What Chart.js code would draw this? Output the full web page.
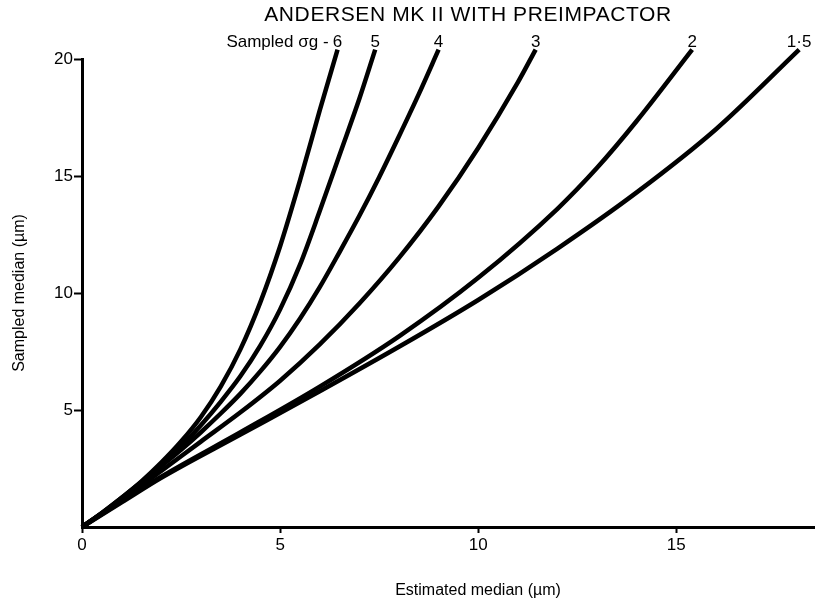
<!DOCTYPE html>
<html>
<head>
<meta charset="utf-8">
<script src="https://cdn.jsdelivr.net/npm/chart.js@4/dist/chart.umd.min.js"></script>
<style>
  html, body { margin: 0; padding: 0; background: #fff; }
  #wrap { width: 815px; height: 604px; }
</style>
</head>
<body>
<div id="wrap"><canvas id="chart" width="815" height="604"></canvas></div>
<script>
const chartTitle = "ANDERSEN MK II WITH PREIMPACTOR";
const xTitle = "Estimated median (\u00b5m)";
const yTitle = "Sampled median (\u00b5m)";
const sigmaPrefix = "Sampled \u03c3g -";
const sigmaLabels = ["6", "5", "4", "3", "2", "1\u00b75"];
const xTicks = [0, 5, 10, 15];
const yTicks = [5, 10, 15, 20];

// one x/y list per sampled sigma-g curve
const x6 = [0, 0.5, 1, 1.5, 2, 2.5, 3, 3.5, 4, 4.5, 5, 5.5, 6, 6.45];
const y6 = [0, 0.6, 1.25, 1.95, 2.75, 3.65, 4.7, 6.0, 7.6, 9.6, 12.0, 14.8, 17.8, 20.4];
const x5 = [0, 0.5, 1, 1.5, 2, 2.5, 3, 3.5, 4, 4.5, 5, 5.5, 6, 6.5, 7, 7.4];
const y5 = [0, 0.6, 1.25, 1.92, 2.65, 3.45, 4.35, 5.35, 6.45, 7.75, 9.3, 11.2, 13.5, 15.9, 18.3, 20.4];
const x4 = [0, 1, 2, 2.5, 3, 3.5, 4, 4.5, 5, 5.5, 6, 6.5, 7, 7.5, 8, 8.5, 9.0];
const y4 = [0, 1.2, 2.6, 3.3, 4.05, 4.85, 5.7, 6.65, 7.7, 8.9, 10.25, 11.75, 13.3, 14.95, 16.7, 18.5, 20.4];
const x3 = [0, 1, 2, 3, 4, 5, 6, 7, 8, 9, 10, 11, 11.45];
const y3 = [0, 1.15, 2.4, 3.65, 4.9, 6.25, 7.8, 9.55, 11.5, 13.7, 16.2, 19.0, 20.4];
const x2 = [0, 1, 2, 4, 6, 8, 10, 12, 13, 14, 15.4];
const y2 = [0, 1.1, 2.15, 4.05, 6.0, 8.15, 10.65, 13.6, 15.35, 17.35, 20.4];
const x15 = [0, 1, 2, 4, 6, 8, 10, 12, 14, 16, 18.1];
const y15 = [0, 1.05, 2.1, 3.95, 5.8, 7.7, 9.7, 11.9, 14.3, 17.0, 20.4];

const curves = [[x6, y6], [x5, y5], [x4, y4], [x3, y3], [x2, y2], [x15, y15]];
const FONT = "'Liberation Sans', Arial, sans-serif";

const datasets = curves.map(([xs, ys], i) => ({
  label: sigmaLabels[i],
  data: xs.map((x, j) => ({ x, y: ys[j] })),
  borderColor: "#000",
  borderWidth: 4.5,
  pointRadius: 0,
  cubicInterpolationMode: "monotone",
  fill: false,
  clip: false,
}));

const textPlugin = {
  id: "texts",
  afterDraw(chart) {
    const { ctx, chartArea, scales } = chart;
    ctx.save();
    ctx.fillStyle = "#000";
    ctx.textBaseline = "middle";

    ctx.font = "21px " + FONT;
    ctx.textAlign = "center";
    ctx.letterSpacing = "0.6px";
    ctx.fillText(chartTitle, 468, 15);
    ctx.letterSpacing = "0px";

    ctx.font = "17px " + FONT;
    const labelY = chartArea.top - 17;
    curves.forEach(([xs], i) => {
      const px = scales.x.getPixelForValue(xs[xs.length - 1]);
      ctx.fillText(sigmaLabels[i], px, labelY);
    });
    ctx.textAlign = "right";
    const firstX = scales.x.getPixelForValue(x6[x6.length - 1]);
    ctx.fillText(sigmaPrefix, firstX - 9, labelY);

    ctx.font = "16px " + FONT;
    ctx.textAlign = "center";
    ctx.fillText(xTitle, 478, 591);

    ctx.translate(20, (chartArea.top + chartArea.bottom) / 2);
    ctx.rotate(-Math.PI / 2);
    ctx.fillText(yTitle, 0, 0);
    ctx.restore();
  },
};

new Chart(document.getElementById("chart"), {
  type: "line",
  data: { datasets },
  options: {
    responsive: false,
    animation: false,
    devicePixelRatio: 1,
    layout: { padding: { top: 59, left: 0, right: 0, bottom: 0 } },
    plugins: { legend: { display: false }, tooltip: { enabled: false }, title: { display: false } },
    scales: {
      x: {
        type: "linear",
        min: 0,
        max: 18.5,
        afterBuildTicks: (s) => { s.ticks = xTicks.map((v) => ({ value: v })); },
        afterFit: (s) => { s.height = 77; },
        grid: { drawOnChartArea: false, drawTicks: true, tickLength: 6, tickColor: "#000", tickWidth: 2 },
        border: { display: true, color: "#000", width: 3 },
        ticks: { color: "#000", font: { family: FONT, size: 17 }, padding: 2, maxRotation: 0 },
      },
      y: {
        type: "linear",
        min: 0,
        max: 20,
        afterBuildTicks: (s) => { s.ticks = yTicks.map((v) => ({ value: v })); },
        afterFit: (s) => { s.width = 82; },
        grid: { drawOnChartArea: false, drawTicks: true, tickLength: 8, tickColor: "#000", tickWidth: 2 },
        border: { display: true, color: "#000", width: 3 },
        ticks: { color: "#000", font: { family: FONT, size: 17 }, padding: 1 },
      },
    },
  },
  plugins: [textPlugin],
});
</script>
</body>
</html>
